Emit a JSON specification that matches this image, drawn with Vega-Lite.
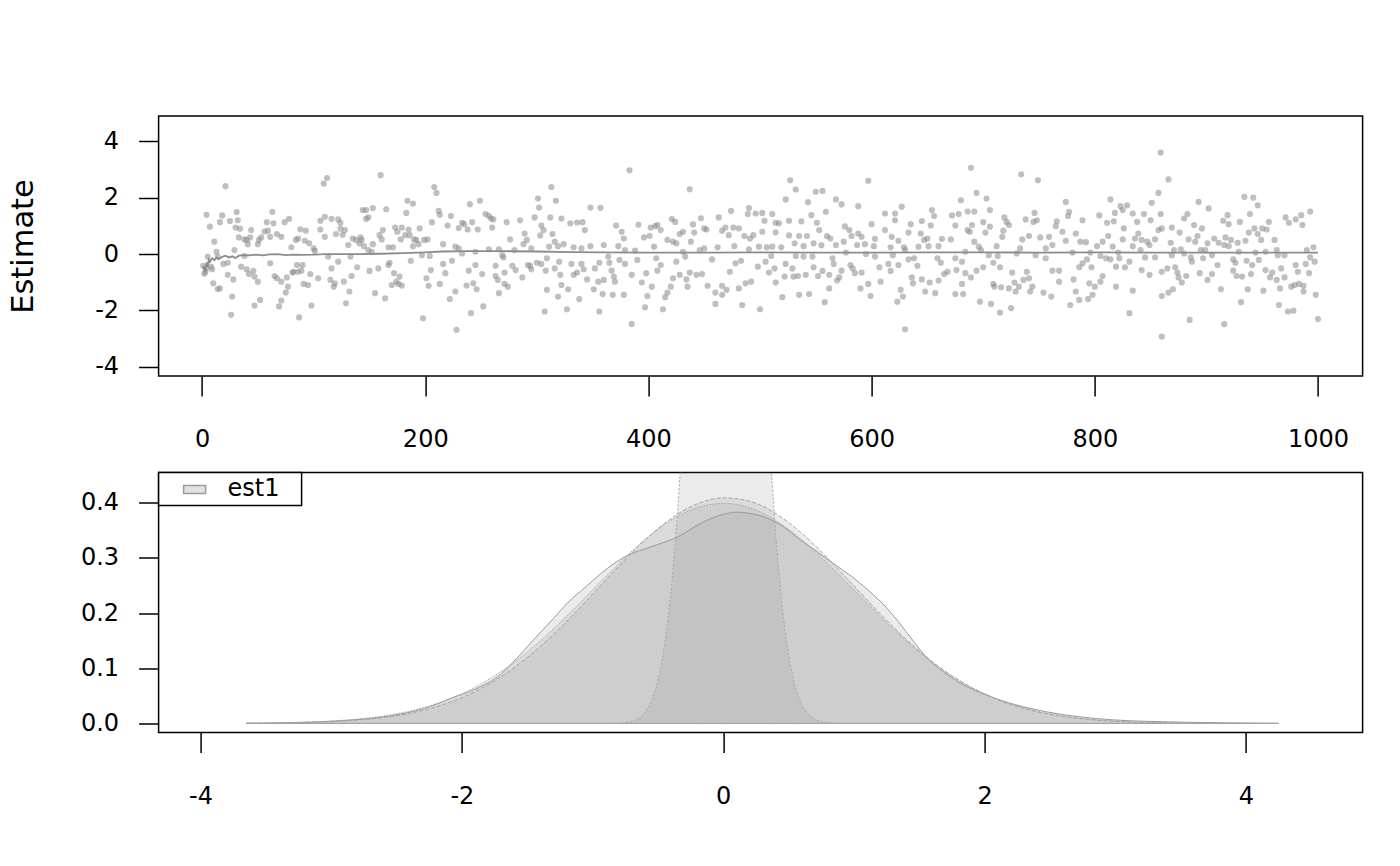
{
  "$schema": "https://vega.github.io/schema/vega-lite/v6.json",
  "background": "white",
  "padding": {"left": 6.6, "top": 115, "right": 38.7, "bottom": 59},
  "bounds": "flush",
  "spacing": 96.5,
  "resolve": {"legend": {"fill": "independent"}},
  "config": {
    "view": {"stroke": "black", "strokeWidth": 1.5},
    "axis": {
      "domain": false, "grid": false, "tickColor": "black", "tickWidth": 1.5, "tickSize": 20,
      "labelFont": "DejaVu Sans", "labelFontSize": 24, "labelColor": "black",
      "labelOverlap": false, "labelFlush": false, "labelBound": false,
      "titleFont": "DejaVu Sans", "titleFontWeight": "normal", "titleColor": "black"
    },
    "axisX": {"labelPadding": 32},
    "axisY": {"labelPadding": 20},
    "legend": {"strokeWidth": 1.5}
  },
  "datasets": {
    "pts": [
      {"i":1,"v":-0.42},{"i":2,"v":-0.7},{"i":3,"v":-0.63},{"i":4,"v":-0.5},{"i":5,"v":-0.09},{"i":4,"v":1.39},{"i":7,"v":0.97},{"i":8,"v":-0.45},{"i":9,"v":-0.54},{"i":10,"v":-1.04},{"i":11,"v":0.44},{"i":13,"v":0.08},{"i":14,"v":-0.09},{"i":14,"v":-1.24},{"i":16,"v":1.13},{"i":16,"v":-1.22},{"i":18,"v":1.37},{"i":19,"v":-0.35},{"i":21,"v":2.41},{"i":23,"v":-0.31},{"i":23,"v":-0.74},{"i":25,"v":1.17},{"i":26,"v":-2.16},{"i":27,"v":-1.51},{"i":28,"v":-0.9},{"i":29,"v":0.14},{"i":30,"v":0.94},{"i":31,"v":1.49},{"i":32,"v":1.2},{"i":33,"v":0.59},{"i":34,"v":0.9},{"i":35,"v":-0.45},{"i":38,"v":0.52},{"i":38,"v":-0.07},{"i":40,"v":0.5},{"i":40,"v":-0.54},{"i":41,"v":0.35},{"i":42,"v":-0.71},{"i":43,"v":0.59},{"i":44,"v":0.85},{"i":46,"v":-0.6},{"i":47,"v":-0.8},{"i":47,"v":-1.83},{"i":50,"v":0.35},{"i":50,"v":-0.98},{"i":51,"v":0.5},{"i":52,"v":-1.63},{"i":53,"v":0.59},{"i":56,"v":0.8},{"i":58,"v":1.13},{"i":59,"v":0.83},{"i":61,"v":0.61},{"i":61,"v":-0.33},{"i":63,"v":1.5},{"i":64,"v":1.09},{"i":65,"v":-0.78},{"i":67,"v":0.71},{"i":67,"v":-0.86},{"i":69,"v":-1.86},{"i":71,"v":0.61},{"i":71,"v":-0.98},{"i":71,"v":-1.65},{"i":74,"v":1.13},{"i":75,"v":-1.37},{"i":76,"v":-0.83},{"i":77,"v":-1.16},{"i":78,"v":1.25},{"i":80,"v":0.24},{"i":81,"v":-0.66},{"i":82,"v":-0.63},{"i":84,"v":0.5},{"i":85,"v":-0.39},{"i":86,"v":0.55},{"i":86,"v":-0.63},{"i":87,"v":-2.25},{"i":88,"v":0.88},{"i":89,"v":-0.59},{"i":90,"v":-0.39},{"i":91,"v":-1.06},{"i":92,"v":0.47},{"i":93,"v":0.83},{"i":95,"v":-1.1},{"i":96,"v":0.38},{"i":97,"v":-0.71},{"i":98,"v":-1.83},{"i":100,"v":0.2},{"i":101,"v":0.11},{"i":104,"v":-0.86},{"i":106,"v":1.18},{"i":106,"v":0.87},{"i":109,"v":2.5},{"i":110,"v":1.32},{"i":110,"v":0.61},{"i":112,"v":2.7},{"i":113,"v":-0.09},{"i":115,"v":-0.92},{"i":116,"v":1.25},{"i":116,"v":-0.51},{"i":118,"v":-1.16},{"i":119,"v":-1.04},{"i":120,"v":0.71},{"i":122,"v":1.23},{"i":122,"v":-0.27},{"i":124,"v":1.11},{"i":124,"v":0.9},{"i":126,"v":0.68},{"i":127,"v":-0.98},{"i":128,"v":0.85},{"i":129,"v":-1.75},{"i":131,"v":0.32},{"i":132,"v":-1.33},{"i":133,"v":-0.09},{"i":134,"v":-0.78},{"i":135,"v":0.55},{"i":138,"v":0.5},{"i":139,"v":-0.47},{"i":141,"v":0.38},
      {"i":160,"v":2.8},{"i":208,"v":2.38},{"i":210,"v":2.17},{"i":184,"v":1.89},{"i":189,"v":1.79},{"i":144,"v":1.56},{"i":147,"v":1.56},{"i":153,"v":1.63},{"i":165,"v":1.59},{"i":147,"v":1.25},{"i":149,"v":1.3},{"i":183,"v":1.46},{"i":212,"v":1.53},{"i":213,"v":1.39},{"i":223,"v":1.35},{"i":240,"v":1.77},{"i":249,"v":1.89},{"i":254,"v":1.42},{"i":257,"v":1.35},{"i":259,"v":1.26},{"i":261,"v":1.23},{"i":206,"v":1.13},{"i":220,"v":1.01},{"i":233,"v":1.11},{"i":235,"v":1.06},{"i":242,"v":1.13},{"i":230,"v":0.92},{"i":238,"v":0.87},{"i":247,"v":0.87},{"i":260,"v":0.94},{"i":273,"v":1.13},{"i":285,"v":1.2},{"i":298,"v":1.3},{"i":301,"v":1.97},{"i":302,"v":1.65},{"i":313,"v":2.38},{"i":317,"v":1.89},{"i":312,"v":1.3},{"i":322,"v":1.26},{"i":304,"v":1.01},{"i":306,"v":0.85},{"i":303,"v":0.66},{"i":289,"v":0.73},{"i":291,"v":0.5},{"i":288,"v":0.35},{"i":276,"v":0.52},{"i":280,"v":0.14},{"i":295,"v":0.2},{"i":314,"v":0.71},{"i":316,"v":0.44},{"i":311,"v":0.26},{"i":319,"v":0.28},{"i":162,"v":0.85},{"i":159,"v":0.67},{"i":161,"v":0.52},{"i":173,"v":0.94},{"i":175,"v":0.79},{"i":179,"v":0.94},{"i":185,"v":0.87},{"i":186,"v":0.67},{"i":182,"v":0.67},{"i":178,"v":0.52},{"i":190,"v":0.52},{"i":192,"v":0.5},{"i":195,"v":0.91},{"i":199,"v":0.5},{"i":202,"v":0.52},{"i":194,"v":0.35},{"i":189,"v":0.28},{"i":142,"v":0.59},{"i":143,"v":0.5},{"i":145,"v":0.28},{"i":153,"v":0.35},{"i":149,"v":0.14},{"i":152,"v":0.08},{"i":167,"v":0.24},{"i":171,"v":0.24},{"i":216,"v":0.35},{"i":227,"v":0.26},{"i":230,"v":0.2},{"i":233,"v":0.02},{"i":245,"v":0.08},{"i":257,"v":0.17},{"i":266,"v":0.17},{"i":269,"v":-0.04},{"i":270,"v":-0.12},{"i":197,"v":-0.04},{"i":204,"v":-0.07},{"i":187,"v":-0.24},{"i":168,"v":-0.31},{"i":167,"v":-0.39},{"i":158,"v":-0.51},{"i":150,"v":-0.6},{"i":172,"v":-0.68},{"i":177,"v":-0.8},{"i":174,"v":-0.98},{"i":170,"v":-1.1},{"i":176,"v":-1.06},{"i":179,"v":-1.12},{"i":155,"v":-1.39},{"i":164,"v":-1.57},{"i":205,"v":-0.57},{"i":201,"v":-0.86},{"i":203,"v":-1.13},{"i":213,"v":-1.06},{"i":216,"v":-0.35},{"i":218,"v":-0.68},{"i":224,"v":-0.24},{"i":222,"v":-1.6},{"i":227,"v":-1.33},{"i":198,"v":-2.28},{"i":228,"v":-2.69},{"i":237,"v":-1.12},{"i":239,"v":-0.59},{"i":245,"v":-0.39},{"i":243,"v":-1.04},{"i":246,"v":-1.25},{"i":251,"v":-0.71},{"i":241,"v":-2.1},{"i":252,"v":-1.86},{"i":263,"v":-0.42},{"i":263,"v":-0.78},{"i":265,"v":-0.92},{"i":271,"v":-0.66},{"i":271,"v":-1.06},{"i":274,"v":-1.16},{"i":266,"v":-1.39},{"i":278,"v":-0.42},{"i":281,"v":-0.57},{"i":287,"v":-0.83},{"i":292,"v":-0.39},{"i":294,"v":-0.42},{"i":295,"v":-0.54},{"i":300,"v":-0.31},{"i":304,"v":-0.35},{"i":309,"v":-0.15},{"i":308,"v":-0.59},{"i":316,"v":-0.51},{"i":321,"v":-0.74},{"i":322,"v":-1.1},{"i":307,"v":-2.04},{"i":309,"v":-1.27},{"i":319,"v":-1.51},
      {"i":383,"v":2.97},{"i":437,"v":2.3},{"i":348,"v":1.65},{"i":357,"v":1.64},{"i":330,"v":1.09},{"i":336,"v":1.12},{"i":341,"v":1.13},{"i":343,"v":0.85},{"i":371,"v":1.01},{"i":376,"v":0.79},{"i":378,"v":0.55},{"i":391,"v":1.04},{"i":396,"v":0.59},{"i":401,"v":0.65},{"i":402,"v":0.94},{"i":406,"v":0.99},{"i":408,"v":1.03},{"i":411,"v":0.85},{"i":421,"v":1.24},{"i":424,"v":1.14},{"i":417,"v":0.5},{"i":422,"v":0.44},{"i":425,"v":0.38},{"i":428,"v":0.71},{"i":431,"v":0.79},{"i":438,"v":0.44},{"i":440,"v":1.05},{"i":441,"v":0.76},{"i":447,"v":1.27},{"i":450,"v":0.91},{"i":452,"v":0.87},{"i":463,"v":1.3},{"i":466,"v":0.83},{"i":469,"v":0.94},{"i":472,"v":0.67},{"i":474,"v":1.53},{"i":476,"v":0.94},{"i":481,"v":0.91},{"i":486,"v":0.64},{"i":489,"v":1.42},{"i":490,"v":1.63},{"i":491,"v":0.55},{"i":494,"v":0.67},{"i":496,"v":1.44},{"i":502,"v":1.46},{"i":502,"v":0.79},{"i":499,"v":0.26},{"i":490,"v":0.17},{"i":477,"v":0.28},{"i":462,"v":0.24},{"i":450,"v":0.2},{"i":446,"v":0.14},{"i":431,"v":0.08},{"i":405,"v":0.26},{"i":388,"v":0.12},{"i":379,"v":0.14},{"i":373,"v":0.28},{"i":360,"v":0.32},{"i":348,"v":0.28},{"i":340,"v":0.2},{"i":333,"v":0.24},{"i":324,"v":0.35},{"i":320,"v":-0.27},{"i":328,"v":-1.25},{"i":331,"v":-0.35},{"i":333,"v":-0.74},{"i":336,"v":-0.66},{"i":340,"v":-0.35},{"i":342,"v":-0.54},{"i":345,"v":-0.9},{"i":338,"v":-1.6},{"i":327,"v":-1.96},{"i":351,"v":-1.25},{"i":352,"v":-0.51},{"i":355,"v":-0.98},{"i":356,"v":-0.31},{"i":359,"v":-1.42},{"i":356,"v":-2.04},{"i":360,"v":-0.92},{"i":364,"v":-0.09},{"i":365,"v":-0.31},{"i":367,"v":-0.59},{"i":369,"v":-0.8},{"i":370,"v":-0.98},{"i":368,"v":-1.45},{"i":374,"v":-0.21},{"i":379,"v":-0.35},{"i":378,"v":-1.45},{"i":385,"v":-0.74},{"i":385,"v":-2.48},{"i":390,"v":-0.21},{"i":394,"v":-1.01},{"i":398,"v":-0.68},{"i":399,"v":-1.49},{"i":397,"v":-1.89},{"i":403,"v":-1.16},{"i":407,"v":-0.15},{"i":408,"v":-0.59},{"i":411,"v":-0.39},{"i":413,"v":-1.96},{"i":415,"v":-1.53},{"i":417,"v":-1.37},{"i":420,"v":-1.16},{"i":422,"v":-0.86},{"i":425,"v":-0.27},{"i":428,"v":-0.74},{"i":433,"v":-0.09},{"i":434,"v":-0.9},{"i":435,"v":-1.16},{"i":437,"v":-0.66},{"i":443,"v":-0.74},{"i":448,"v":-0.71},{"i":453,"v":-1.13},{"i":457,"v":-0.19},{"i":460,"v":-1.37},{"i":460,"v":-1.77},{"i":466,"v":-1.13},{"i":466,"v":-1.45},{"i":470,"v":-1.27},{"i":473,"v":-0.63},{"i":478,"v":-0.33},{"i":481,"v":-1.22},{"i":483,"v":-0.24},{"i":484,"v":-1.81},{"i":487,"v":-1.04},{"i":492,"v":-0.98},{"i":498,"v":-0.45},{"i":500,"v":-1.96},
      {"i":527,"v":2.62},{"i":532,"v":2.29},{"i":550,"v":2.21},{"i":556,"v":2.24},{"i":597,"v":2.6},{"i":523,"v":1.94},{"i":543,"v":1.84},{"i":568,"v":1.94},{"i":573,"v":1.76},{"i":588,"v":1.7},{"i":559,"v":1.5},{"i":511,"v":1.42},{"i":504,"v":1.18},{"i":514,"v":1.11},{"i":517,"v":1.09},{"i":526,"v":1.18},{"i":537,"v":1.16},{"i":546,"v":1.38},{"i":551,"v":1.11},{"i":553,"v":0.85},{"i":514,"v":0.77},{"i":526,"v":0.66},{"i":535,"v":0.64},{"i":542,"v":0.64},{"i":560,"v":0.64},{"i":563,"v":0.55},{"i":576,"v":0.98},{"i":580,"v":0.85},{"i":582,"v":0.64},{"i":588,"v":0.73},{"i":591,"v":0.61},{"i":600,"v":1.06},{"i":603,"v":0.54},{"i":612,"v":0.85},{"i":612,"v":1.44},{"i":621,"v":1.44},{"i":621,"v":1.2},{"i":627,"v":1.68},{"i":618,"v":0.61},{"i":624,"v":0.47},{"i":635,"v":1.06},{"i":633,"v":0.76},{"i":645,"v":1.17},{"i":644,"v":0.73},{"i":647,"v":0.5},{"i":650,"v":0.55},{"i":653,"v":1.01},{"i":654,"v":1.56},{"i":656,"v":1.35},{"i":663,"v":0.54},{"i":672,"v":1.37},{"i":678,"v":1.42},{"i":680,"v":1.91},{"i":675,"v":1.01},{"i":671,"v":0.52},{"i":506,"v":0.24},{"i":511,"v":0.26},{"i":519,"v":0.24},{"i":531,"v":0.38},{"i":539,"v":0.28},{"i":548,"v":0.38},{"i":555,"v":0.31},{"i":568,"v":0.32},{"i":575,"v":0.44},{"i":587,"v":0.32},{"i":594,"v":0.35},{"i":602,"v":0.28},{"i":617,"v":0.24},{"i":629,"v":0.24},{"i":642,"v":0.26},{"i":651,"v":0.28},{"i":660,"v":0.28},{"i":505,"v":-0.27},{"i":510,"v":-0.07},{"i":513,"v":-0.51},{"i":508,"v":-0.66},{"i":522,"v":-0.8},{"i":523,"v":-0.35},{"i":529,"v":-0.51},{"i":530,"v":-0.8},{"i":514,"v":-1.01},{"i":534,"v":-0.78},{"i":541,"v":-0.74},{"i":532,"v":-0.07},{"i":539,"v":-0.09},{"i":547,"v":-0.09},{"i":548,"v":-0.47},{"i":552,"v":-0.78},{"i":556,"v":-0.6},{"i":562,"v":-0.74},{"i":565,"v":-0.15},{"i":566,"v":-0.35},{"i":571,"v":-0.83},{"i":569,"v":-0.94},{"i":573,"v":-0.59},{"i":562,"v":-1.22},{"i":558,"v":-1.71},{"i":544,"v":-1.42},{"i":535,"v":-1.45},{"i":520,"v":-1.53},{"i":577,"v":0.05},{"i":581,"v":-0.39},{"i":583,"v":-0.51},{"i":585,"v":-0.68},{"i":591,"v":-0.66},{"i":590,"v":-1.22},{"i":595,"v":0.0},{"i":597,"v":-1.06},{"i":599,"v":-1.49},{"i":603,"v":-0.09},{"i":607,"v":-0.47},{"i":608,"v":-0.98},{"i":615,"v":-0.35},{"i":617,"v":-0.6},{"i":619,"v":-0.04},{"i":624,"v":-0.39},{"i":626,"v":-1.27},{"i":623,"v":-1.69},{"i":628,"v":-1.51},{"i":630,"v":-2.67},{"i":630,"v":0.14},{"i":633,"v":-0.19},{"i":638,"v":-0.15},{"i":641,"v":-0.42},{"i":636,"v":-0.83},{"i":637,"v":-1.04},{"i":645,"v":-0.9},{"i":648,"v":-1.33},{"i":652,"v":-1.01},{"i":657,"v":-1.39},{"i":659,"v":-0.15},{"i":662,"v":-0.31},{"i":665,"v":-0.71},{"i":668,"v":-0.63},{"i":675,"v":-0.15},{"i":676,"v":-0.57},{"i":660,"v":-0.94},{"i":675,"v":-1.42},{"i":681,"v":-1.06},
      {"i":689,"v":3.06},{"i":734,"v":2.83},{"i":749,"v":2.62},{"i":859,"v":3.6},{"i":694,"v":2.17},{"i":703,"v":1.97},{"i":686,"v":1.51},{"i":692,"v":1.51},{"i":706,"v":1.56},{"i":690,"v":1.03},{"i":686,"v":0.85},{"i":688,"v":0.79},{"i":700,"v":1.13},{"i":706,"v":0.97},{"i":702,"v":0.76},{"i":719,"v":1.3},{"i":721,"v":1.14},{"i":723,"v":1.03},{"i":718,"v":0.83},{"i":717,"v":0.61},{"i":738,"v":1.23},{"i":745,"v":1.14},{"i":748,"v":1.2},{"i":746,"v":1.46},{"i":735,"v":0.52},{"i":741,"v":0.64},{"i":751,"v":0.59},{"i":759,"v":0.61},{"i":765,"v":0.99},{"i":766,"v":1.16},{"i":771,"v":0.79},{"i":774,"v":1.85},{"i":777,"v":1.5},{"i":776,"v":1.35},{"i":774,"v":0.47},{"i":783,"v":0.73},{"i":789,"v":1.2},{"i":787,"v":0.44},{"i":792,"v":0.42},{"i":804,"v":1.37},{"i":802,"v":0.28},{"i":807,"v":0.44},{"i":811,"v":1.11},{"i":812,"v":0.64},{"i":814,"v":1.94},{"i":817,"v":1.16},{"i":818,"v":1.46},{"i":816,"v":0.26},{"i":823,"v":1.7},{"i":825,"v":1.56},{"i":829,"v":1.73},{"i":826,"v":0.91},{"i":825,"v":0.52},{"i":834,"v":1.44},{"i":836,"v":0.55},{"i":839,"v":0.73},{"i":838,"v":1.14},{"i":842,"v":0.5},{"i":844,"v":1.42},{"i":847,"v":0.44},{"i":849,"v":0.32},{"i":850,"v":1.2},{"i":851,"v":1.82},{"i":854,"v":0.52},{"i":857,"v":2.17},{"i":859,"v":1.42},{"i":857,"v":0.85},{"i":860,"v":0.91},{"i":684,"v":0.08},{"i":692,"v":0.44},{"i":696,"v":0.26},{"i":698,"v":0.14},{"i":705,"v":-0.04},{"i":712,"v":0.28},{"i":713,"v":-0.07},{"i":730,"v":0.02},{"i":733,"v":0.2},{"i":747,"v":-0.04},{"i":756,"v":0.2},{"i":762,"v":0.32},{"i":780,"v":0.05},{"i":796,"v":0.05},{"i":805,"v":-0.07},{"i":821,"v":0.05},{"i":834,"v":0.28},{"i":841,"v":0.14},{"i":681,"v":-0.27},{"i":684,"v":-0.68},{"i":689,"v":-0.83},{"i":682,"v":-1.42},{"i":694,"v":-0.59},{"i":700,"v":-0.47},{"i":709,"v":-0.31},{"i":715,"v":-0.47},{"i":709,"v":-1.06},{"i":710,"v":-1.16},{"i":697,"v":-1.69},{"i":707,"v":-1.77},{"i":715,"v":-2.08},{"i":725,"v":-1.92},{"i":716,"v":-1.18},{"i":723,"v":-1.22},{"i":726,"v":-0.66},{"i":728,"v":-1.01},{"i":729,"v":-1.33},{"i":732,"v":-1.16},{"i":736,"v":-0.92},{"i":739,"v":-0.63},{"i":741,"v":-0.86},{"i":744,"v":-1.16},{"i":742,"v":-1.33},{"i":754,"v":-1.37},{"i":756,"v":-0.15},{"i":761,"v":-1.51},{"i":762,"v":-0.59},{"i":768,"v":-0.59},{"i":768,"v":-0.98},{"i":781,"v":-0.9},{"i":783,"v":-1.33},{"i":786,"v":-0.47},{"i":789,"v":-0.33},{"i":793,"v":-0.19},{"i":797,"v":-0.47},{"i":795,"v":-1.04},{"i":778,"v":-1.81},{"i":786,"v":-1.63},{"i":794,"v":-1.6},{"i":798,"v":-1.45},{"i":800,"v":-1.16},{"i":805,"v":-0.98},{"i":807,"v":-0.78},{"i":810,"v":-0.15},{"i":814,"v":-0.19},{"i":819,"v":-0.45},{"i":819,"v":-1.16},{"i":822,"v":-0.15},{"i":827,"v":-0.47},{"i":831,"v":-0.27},{"i":831,"v":-2.1},{"i":834,"v":-1.3},{"i":842,"v":-0.57},{"i":845,"v":-0.12},{"i":849,"v":-0.74},{"i":854,"v":-0.12},{"i":860,"v":-0.63},{"i":860,"v":-1.49},{"i":860,"v":-2.93},
      {"i":866,"v":2.65},{"i":893,"v":1.85},{"i":902,"v":1.62},{"i":934,"v":2.03},{"i":942,"v":2.0},{"i":946,"v":1.73},{"i":880,"v":1.26},{"i":883,"v":1.42},{"i":889,"v":1.03},{"i":896,"v":0.91},{"i":915,"v":1.18},{"i":919,"v":1.38},{"i":920,"v":1.06},{"i":930,"v":1.14},{"i":939,"v":1.42},{"i":943,"v":0.91},{"i":938,"v":0.76},{"i":946,"v":0.71},{"i":950,"v":0.91},{"i":954,"v":0.87},{"i":956,"v":1.14},{"i":949,"v":0.5},{"i":961,"v":0.5},{"i":971,"v":1.3},{"i":974,"v":1.11},{"i":980,"v":1.23},{"i":985,"v":1.38},{"i":986,"v":1.03},{"i":993,"v":1.51},{"i":869,"v":0.94},{"i":876,"v":0.76},{"i":884,"v":0.52},{"i":890,"v":0.44},{"i":892,"v":0.64},{"i":901,"v":0.38},{"i":907,"v":0.55},{"i":911,"v":0.4},{"i":917,"v":0.59},{"i":916,"v":0.32},{"i":920,"v":0.28},{"i":922,"v":0.5},{"i":928,"v":0.4},{"i":935,"v":0.47},{"i":868,"v":0.4},{"i":877,"v":0.17},{"i":871,"v":0.14},{"i":895,"v":0.14},{"i":899,"v":0.14},{"i":929,"v":0.08},{"i":944,"v":0.05},{"i":953,"v":0.08},{"i":963,"v":0.14},{"i":990,"v":0.14},{"i":996,"v":0.24},{"i":869,"v":-0.04},{"i":880,"v":0.02},{"i":886,"v":-0.12},{"i":887,"v":-0.27},{"i":897,"v":-0.15},{"i":905,"v":-0.04},{"i":910,"v":-0.39},{"i":924,"v":-0.19},{"i":926,"v":-0.31},{"i":936,"v":-0.24},{"i":941,"v":-0.39},{"i":947,"v":-0.21},{"i":964,"v":-0.04},{"i":970,"v":-0.04},{"i":980,"v":-0.39},{"i":989,"v":-0.35},{"i":993,"v":-0.12},{"i":997,"v":-0.27},{"i":865,"v":-0.51},{"i":872,"v":-0.47},{"i":874,"v":-0.66},{"i":875,"v":-0.83},{"i":882,"v":-0.78},{"i":878,"v":-1.01},{"i":870,"v":-1.25},{"i":866,"v":-1.37},{"i":894,"v":-0.68},{"i":901,"v":-0.92},{"i":905,"v":-0.71},{"i":913,"v":-1.25},{"i":924,"v":-0.59},{"i":927,"v":-0.78},{"i":932,"v":-0.8},{"i":940,"v":-0.71},{"i":937,"v":-1.25},{"i":931,"v":-1.71},{"i":951,"v":-1.3},{"i":953,"v":-0.57},{"i":957,"v":-0.83},{"i":959,"v":-0.66},{"i":963,"v":-0.92},{"i":966,"v":-1.22},{"i":967,"v":-0.51},{"i":970,"v":-0.83},{"i":965,"v":-1.81},{"i":973,"v":-2.04},{"i":978,"v":-2.01},{"i":976,"v":-1.16},{"i":979,"v":-1.1},{"i":982,"v":-0.63},{"i":983,"v":-1.06},{"i":987,"v":-1.13},{"i":987,"v":-1.33},{"i":992,"v":-0.68},{"i":998,"v":-1.45},{"i":1000,"v":-2.31},{"i":885,"v":-2.34},{"i":916,"v":-2.49}
    ],
    "mean": [
      {"i":1,"v":-0.42},{"i":2,"v":-0.58},{"i":3,"v":-0.6},{"i":4,"v":-0.3},{"i":5,"v":-0.45},{"i":6,"v":-0.2},{"i":7,"v":-0.28},{"i":9,"v":-0.15},{"i":11,"v":-0.22},{"i":13,"v":-0.12},{"i":15,"v":-0.18},{"i":18,"v":-0.1},{"i":21,"v":-0.06},{"i":24,"v":-0.12},{"i":27,"v":-0.08},{"i":30,"v":-0.14},{"i":33,"v":-0.06},{"i":37,"v":-0.04},{"i":42,"v":-0.05},{"i":48,"v":-0.02},{"i":55,"v":-0.05},{"i":60,"v":-0.01},{"i":68,"v":0.0},{"i":75,"v":-0.04},{"i":82,"v":-0.02},{"i":90,"v":-0.03},{"i":100,"v":-0.02},{"i":110,"v":0.0},{"i":125,"v":0.0},{"i":140,"v":0.0},{"i":160,"v":0.01},{"i":180,"v":0.03},{"i":200,"v":0.06},{"i":215,"v":0.09},{"i":240,"v":0.1},{"i":270,"v":0.1},{"i":300,"v":0.09},{"i":330,"v":0.07},{"i":360,"v":0.06},{"i":400,"v":0.05},{"i":450,"v":0.05},{"i":500,"v":0.06},{"i":550,"v":0.05},{"i":600,"v":0.05},{"i":650,"v":0.06},{"i":700,"v":0.06},{"i":750,"v":0.05},{"i":800,"v":0.06},{"i":850,"v":0.05},{"i":900,"v":0.05},{"i":950,"v":0.05},{"i":1000,"v":0.05}
    ],
    "dens": [
      {"s":"est1","x":-3.65,"d":0.0003},{"s":"est1","x":-3.3,"d":0.0015},{"s":"est1","x":-3.0,"d":0.004},{"s":"est1","x":-2.75,"d":0.008},{"s":"est1","x":-2.47,"d":0.017},{"s":"est1","x":-2.25,"d":0.03},{"s":"est1","x":-2.09,"d":0.045},{"s":"est1","x":-1.9,"d":0.062},{"s":"est1","x":-1.73,"d":0.084},{"s":"est1","x":-1.6,"d":0.113},{"s":"est1","x":-1.45,"d":0.152},{"s":"est1","x":-1.3,"d":0.19},{"s":"est1","x":-1.19,"d":0.219},{"s":"est1","x":-1.05,"d":0.248},{"s":"est1","x":-0.94,"d":0.271},{"s":"est1","x":-0.73,"d":0.305},{"s":"est1","x":-0.555,"d":0.32},{"s":"est1","x":-0.35,"d":0.338},{"s":"est1","x":-0.17,"d":0.363},{"s":"est1","x":0.0,"d":0.379},{"s":"est1","x":0.1,"d":0.383},{"s":"est1","x":0.2,"d":0.381},{"s":"est1","x":0.34,"d":0.372},{"s":"est1","x":0.47,"d":0.355},{"s":"est1","x":0.593,"d":0.332},{"s":"est1","x":0.72,"d":0.311},{"s":"est1","x":0.848,"d":0.289},{"s":"est1","x":0.98,"d":0.267},{"s":"est1","x":1.103,"d":0.243},{"s":"est1","x":1.2,"d":0.222},{"s":"est1","x":1.308,"d":0.194},{"s":"est1","x":1.43,"d":0.157},{"s":"est1","x":1.563,"d":0.118},{"s":"est1","x":1.7,"d":0.091},{"s":"est1","x":1.87,"d":0.066},{"s":"est1","x":2.0,"d":0.053},{"s":"est1","x":2.125,"d":0.042},{"s":"est1","x":2.355,"d":0.027},{"s":"est1","x":2.6,"d":0.016},{"s":"est1","x":2.85,"d":0.009},{"s":"est1","x":3.1,"d":0.005},{"s":"est1","x":3.4,"d":0.003},{"s":"est1","x":3.7,"d":0.0015},{"s":"est1","x":4.0,"d":0.0006},{"s":"est1","x":4.25,"d":0.0002},
      {"s":"n1","x":-3.65,"d":0.0003},{"s":"n1","x":-3.4,"d":0.0008},{"s":"n1","x":-3.2,"d":0.0017},{"s":"n1","x":-3.0,"d":0.0033},{"s":"n1","x":-2.8,"d":0.0061},{"s":"n1","x":-2.6,"d":0.0108},{"s":"n1","x":-2.4,"d":0.0183},{"s":"n1","x":-2.2,"d":0.0299},{"s":"n1","x":-2.0,"d":0.0468},{"s":"n1","x":-1.8,"d":0.0703},{"s":"n1","x":-1.6,"d":0.1012},{"s":"n1","x":-1.4,"d":0.1395},{"s":"n1","x":-1.2,"d":0.1846},{"s":"n1","x":-1.0,"d":0.2342},{"s":"n1","x":-0.8,"d":0.2849},{"s":"n1","x":-0.6,"d":0.3321},{"s":"n1","x":-0.4,"d":0.3713},{"s":"n1","x":-0.2,"d":0.398},{"s":"n1","x":0.0,"d":0.409},{"s":"n1","x":0.2,"d":0.403},{"s":"n1","x":0.4,"d":0.3808},{"s":"n1","x":0.6,"d":0.345},{"s":"n1","x":0.8,"d":0.2995},{"s":"n1","x":1.0,"d":0.2494},{"s":"n1","x":1.2,"d":0.1992},{"s":"n1","x":1.4,"d":0.1525},{"s":"n1","x":1.6,"d":0.112},{"s":"n1","x":1.8,"d":0.0788},{"s":"n1","x":2.0,"d":0.0531},{"s":"n1","x":2.2,"d":0.0344},{"s":"n1","x":2.4,"d":0.0213},{"s":"n1","x":2.6,"d":0.0127},{"s":"n1","x":2.8,"d":0.0072},{"s":"n1","x":3.0,"d":0.004},{"s":"n1","x":3.2,"d":0.0021},{"s":"n1","x":3.4,"d":0.001},{"s":"n1","x":3.6,"d":0.0005},{"s":"n1","x":3.8,"d":0.0002},{"s":"n1","x":4.0,"d":0.0001},{"s":"n1","x":4.25,"d":0.00004},
      {"s":"n0","x":-3.65,"d":0.0005},{"s":"n0","x":-3.4,"d":0.0012},{"s":"n0","x":-3.2,"d":0.0024},{"s":"n0","x":-3.0,"d":0.0044},{"s":"n0","x":-2.8,"d":0.0079},{"s":"n0","x":-2.6,"d":0.0136},{"s":"n0","x":-2.4,"d":0.0224},{"s":"n0","x":-2.2,"d":0.0355},{"s":"n0","x":-2.0,"d":0.054},{"s":"n0","x":-1.8,"d":0.079},{"s":"n0","x":-1.6,"d":0.1109},{"s":"n0","x":-1.4,"d":0.1497},{"s":"n0","x":-1.2,"d":0.1942},{"s":"n0","x":-1.0,"d":0.242},{"s":"n0","x":-0.8,"d":0.2897},{"s":"n0","x":-0.6,"d":0.3332},{"s":"n0","x":-0.4,"d":0.3683},{"s":"n0","x":-0.2,"d":0.391},{"s":"n0","x":0.0,"d":0.3989},{"s":"n0","x":0.2,"d":0.391},{"s":"n0","x":0.4,"d":0.3683},{"s":"n0","x":0.6,"d":0.3332},{"s":"n0","x":0.8,"d":0.2897},{"s":"n0","x":1.0,"d":0.242},{"s":"n0","x":1.2,"d":0.1942},{"s":"n0","x":1.4,"d":0.1497},{"s":"n0","x":1.6,"d":0.1109},{"s":"n0","x":1.8,"d":0.079},{"s":"n0","x":2.0,"d":0.054},{"s":"n0","x":2.2,"d":0.0355},{"s":"n0","x":2.4,"d":0.0224},{"s":"n0","x":2.6,"d":0.0136},{"s":"n0","x":2.8,"d":0.0079},{"s":"n0","x":3.0,"d":0.0044},{"s":"n0","x":3.2,"d":0.0024},{"s":"n0","x":3.4,"d":0.0012},{"s":"n0","x":3.6,"d":0.0006},{"s":"n0","x":3.8,"d":0.0003},{"s":"n0","x":4.0,"d":0.0001},{"s":"n0","x":4.25,"d":0.0001},
      {"s":"spike","x":-3.65,"d":0},{"s":"spike","x":-1.0,"d":0},{"s":"spike","x":-0.9,"d":0.0001},{"s":"spike","x":-0.8,"d":0.0007},{"s":"spike","x":-0.7,"d":0.0041},{"s":"spike","x":-0.6,"d":0.0201},{"s":"spike","x":-0.55,"d":0.0408},{"s":"spike","x":-0.5,"d":0.078},{"s":"spike","x":-0.45,"d":0.1405},{"s":"spike","x":-0.4,"d":0.2386},{"s":"spike","x":-0.35,"d":0.382},{"s":"spike","x":-0.3,"d":0.576},{"s":"spike","x":-0.2,"d":1.094},{"s":"spike","x":-0.1,"d":1.64},{"s":"spike","x":0.02,"d":1.946},{"s":"spike","x":0.1,"d":1.803},{"s":"spike","x":0.2,"d":1.323},{"s":"spike","x":0.3,"d":0.7656},{"s":"spike","x":0.35,"d":0.5327},{"s":"spike","x":0.4,"d":0.349},{"s":"spike","x":0.45,"d":0.2157},{"s":"spike","x":0.5,"d":0.1255},{"s":"spike","x":0.55,"d":0.0688},{"s":"spike","x":0.6,"d":0.0356},{"s":"spike","x":0.7,"d":0.0079},{"s":"spike","x":0.8,"d":0.0014},{"s":"spike","x":0.9,"d":0.0002},{"s":"spike","x":1.0,"d":0},{"s":"spike","x":4.25,"d":0}
    ]
  },
  "vconcat": [
    {
      "width": 1204,
      "height": 260,
      "layer": [
        {
          "data": {"name": "pts"},
          "mark": {"type": "circle", "size": 38, "color": "#8a8a8a", "opacity": 0.55, "clip": true},
          "encoding": {
            "x": {"field": "i", "type": "quantitative",
                  "scale": {"domain": [-38.96, 1039.96], "nice": false, "zero": false},
                  "axis": {"values": [0, 200, 400, 600, 800, 1000], "labelExpr": "'' + datum.value", "title": null}},
            "y": {"field": "v", "type": "quantitative",
                  "scale": {"domain": [-4.33, 4.9], "nice": false, "zero": false},
                  "axis": {"values": [-4, -2, 0, 2, 4], "labelExpr": "'' + datum.value",
                           "title": "Estimate", "titleFontSize": 30.5, "titleX": -135.5, "titleY": 130,
                           "titleAngle": -90, "titleBaseline": "middle", "titleAlign": "center"}}
          }
        },
        {
          "data": {"name": "mean"},
          "mark": {"type": "line", "color": "#8c8c8c", "strokeWidth": 1.8, "clip": true},
          "encoding": {
            "x": {"field": "i", "type": "quantitative"},
            "y": {"field": "v", "type": "quantitative"}
          }
        }
      ]
    },
    {
      "width": 1204,
      "height": 260,
      "data": {"name": "dens"},
      "encoding": {
        "x": {"field": "x", "type": "quantitative",
              "scale": {"domain": [-4.321, 4.893], "nice": false, "zero": false},
              "axis": {"values": [-4, -2, 0, 2, 4], "labelExpr": "'' + datum.value", "title": null}},
        "y": {"field": "d", "type": "quantitative", "stack": null,
              "scale": {"domain": [-0.0164, 0.4549], "nice": false, "zero": false},
              "axis": {"values": [0, 0.1, 0.2, 0.3, 0.4], "labelExpr": "format(datum.value, '.1f')", "title": null}}
      },
      "layer": [
        {
          "transform": [{"filter": "datum.s == 'est1'"}],
          "mark": {"type": "area", "fillOpacity": 0.69, "stroke": "#9a9a9a", "strokeWidth": 1, "interpolate": "monotone", "clip": true},
          "encoding": {
            "fill": {"datum": "est1", "type": "nominal", "scale": {"range": ["#e2e2e2"]},
                     "legend": {"title": null, "orient": "none", "legendX": 0, "legendY": 0, "padding": 4,
                                "strokeColor": "black", "fillColor": "white",
                                "symbolType": "M0.67,-0.33H2.5V0.33H0.67Z", "symbolSize": 576,
                                "symbolStrokeColor": "#9a9a9a", "symbolStrokeWidth": 1.5,
                                "labelFont": "DejaVu Sans", "labelFontSize": 24, "labelColor": "black",
                                "labelOffset": 39, "labelExpr": "datum.label + '\u2800'"}}
          }
        },
        {
          "transform": [{"filter": "datum.s == 'n1'"}],
          "mark": {"type": "area", "fill": "#999999", "fillOpacity": 0.2, "stroke": "#a5a5a5", "strokeWidth": 1, "strokeDash": [4, 2], "interpolate": "monotone", "clip": true}
        },
        {
          "transform": [{"filter": "datum.s == 'n0'"}],
          "mark": {"type": "area", "fill": "#999999", "fillOpacity": 0.2, "stroke": "#a5a5a5", "strokeWidth": 1, "strokeDash": [1.5, 1.5], "interpolate": "monotone", "clip": true}
        },
        {
          "transform": [{"filter": "datum.s == 'spike'"}],
          "mark": {"type": "area", "fill": "#999999", "fillOpacity": 0.2, "stroke": "#a5a5a5", "strokeWidth": 1, "strokeDash": [2, 2], "interpolate": "monotone", "clip": true}
        }
      ]
    }
  ]
}
